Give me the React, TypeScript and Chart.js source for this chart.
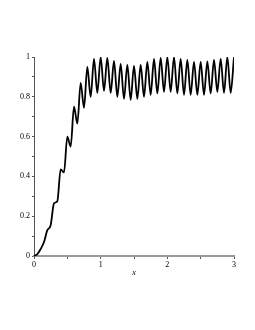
import React, { useEffect, useRef } from "react";
import { Chart, registerables } from "chart.js";

Chart.register(...registerables);

const xValues = [
  0, 0.05, 0.1, 0.15, 0.2, 0.25, 0.3, 0.35, 0.4, 0.45,
  0.5, 0.55, 0.6, 0.65, 0.7, 0.75, 0.8, 0.85, 0.9, 0.95,
  1.0, 1.05, 1.1, 1.15, 1.2, 1.25, 1.3, 1.35, 1.4, 1.45,
  1.5, 1.55, 1.6, 1.65, 1.7, 1.75, 1.8, 1.85, 1.9, 1.95,
  2.0, 2.05, 2.1, 2.15, 2.2, 2.25, 2.3, 2.35, 2.4, 2.45,
  2.5, 2.55, 2.6, 2.65, 2.7, 2.75, 2.8, 2.85, 2.9, 2.95, 3.0,
];

const yValues = [
  0, 0.01, 0.035, 0.07, 0.13, 0.155, 0.265, 0.275, 0.435, 0.42,
  0.6, 0.55, 0.75, 0.665, 0.87, 0.745, 0.95, 0.8, 0.99, 0.82,
  1.0, 0.83, 0.995, 0.82, 0.98, 0.8, 0.965, 0.79, 0.96, 0.785,
  0.955, 0.79, 0.96, 0.8, 0.975, 0.81, 0.99, 0.817, 0.995, 0.825,
  1.0, 0.825, 1.0, 0.817, 0.99, 0.81, 0.985, 0.81, 0.976, 0.81,
  0.975, 0.81, 0.978, 0.817, 0.985, 0.825, 0.99, 0.82, 1.0, 0.82, 1.0,
];

const xTickLabels = ["0", "1", "2", "3"];
const yTickLabels = ["0", "0.2", "0.4", "0.6", "0.8", "1"];
const xAxisTitle = "x";

const FONT = "'Liberation Serif', 'DejaVu Serif', serif";

export default function App() {
  const ref = useRef<HTMLCanvasElement | null>(null);

  useEffect(() => {
    if (!ref.current) return;
    const points = xValues.map((x, i) => ({ x, y: yValues[i] }));
    const chart = new Chart(ref.current, {
      type: "line",
      data: {
        datasets: [
          {
            data: points,
            borderColor: "#000000",
            borderWidth: 1.8,
            pointRadius: 0,
            fill: false,
            cubicInterpolationMode: "monotone",
          },
        ],
      },
      options: {
        animation: false,
        responsive: false,
        maintainAspectRatio: false,
        plugins: { legend: { display: false }, tooltip: { enabled: false } },
        layout: { padding: { top: 57, right: 21, left: 0, bottom: 52 } },
        scales: {
          x: {
            type: "linear",
            min: 0,
            max: 3,
            afterFit: (s: any) => {
              s.height = 22;
            },
            border: { color: "#9a9a9a", width: 2 },
            grid: {
              drawOnChartArea: false,
              drawTicks: true,
              tickLength: 3,
              color: "#555555",
            },
            ticks: {
              stepSize: 0.5,
              maxRotation: 0,
              autoSkip: false,
              padding: 1,
              color: "#000000",
              font: { family: FONT, size: 8 },
              callback: (v: any) => {
                const n = Number(v);
                return Number.isInteger(n) ? xTickLabels[n] : "";
              },
            },
            title: {
              display: true,
              text: xAxisTitle,
              color: "#000000",
              font: { family: FONT, size: 8, style: "italic" },
              padding: { top: 2, bottom: 0 },
            },
          },
          y: {
            type: "linear",
            min: 0,
            max: 1,
            afterFit: (s: any) => {
              s.width = 34;
            },
            border: { color: "#555555", width: 1 },
            grid: {
              drawOnChartArea: false,
              drawTicks: true,
              tickLength: 2,
              color: "#555555",
            },
            ticks: {
              stepSize: 0.1,
              autoSkip: false,
              padding: 2,
              color: "#000000",
              font: { family: FONT, size: 8 },
              callback: (v: any) => {
                const k = Math.round(Number(v) * 10);
                return k % 2 === 0 ? yTickLabels[k / 2] : "";
              },
            },
          },
        },
      },
    });
    return () => chart.destroy();
  }, []);

  return (
    <div style={{ position: "fixed", left: 0, top: 0, width: 255, height: 330, background: "#ffffff" }}>
      <canvas ref={ref} width={255} height={330} style={{ width: 255, height: 330, display: "block" }} />
    </div>
  );
}
